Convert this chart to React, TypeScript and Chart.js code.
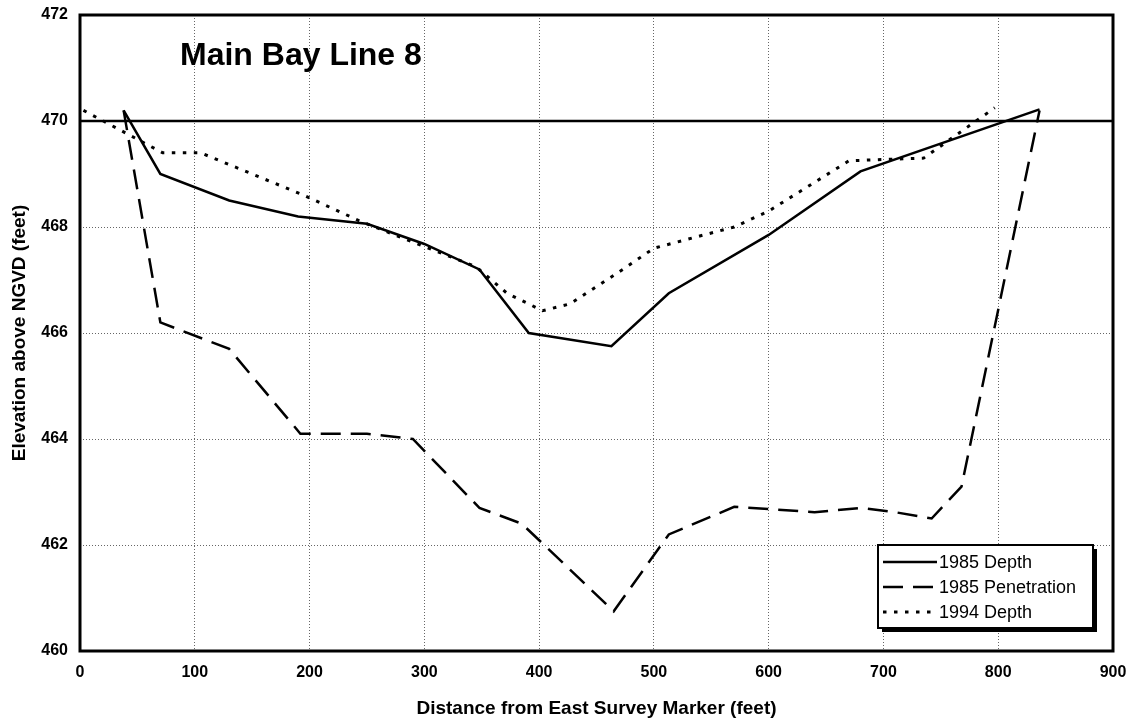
import React, { useEffect, useRef } from "react";
import { Chart, registerables } from "chart.js";

Chart.register(...registerables);

// ---- Data ----
const xTicks = [0, 100, 200, 300, 400, 500, 600, 700, 800, 900];
const yTicks = [460, 462, 464, 466, 468, 470, 472];

const depth1985X = [38, 70, 130, 190, 250, 300, 348, 391, 463, 513, 600, 680, 836];
const depth1985Y = [470.2, 469.0, 468.5, 468.2, 468.06, 467.68, 467.2, 466.0, 465.75, 466.75, 467.85, 469.05, 470.22];

const penetration1985X = [38, 70, 130, 192, 250, 290, 348, 385, 465, 513, 570, 640, 680, 710, 742, 768, 836];
const penetration1985Y = [470.2, 466.2, 465.7, 464.1, 464.1, 464.0, 462.7, 462.4, 460.75, 462.2, 462.72, 462.62, 462.7, 462.62, 462.5, 463.1, 470.2];

const depth1994X = [3, 72, 105, 195, 245, 345, 372, 403, 427, 473, 500, 540, 570, 600, 670, 735, 797];
const depth1994Y = [470.2, 469.4, 469.4, 468.6, 468.1, 467.25, 466.75, 466.42, 466.55, 467.2, 467.6, 467.83, 468.0, 468.3, 469.25, 469.3, 470.25];

const refLineX = [0, 900];
const refLineY = [470, 470];

const seriesNames = ["1985 Depth", "1985 Penetration", "1994 Depth"];
const chartTitle = "Main Bay Line 8";
const xAxisTitle = "Distance from East Survey Marker (feet)";
const yAxisTitle = "Elevation above NGVD (feet)";

const FONT = "'Liberation Sans', Arial, Helvetica, sans-serif";

const toPoints = (xs: number[], ys: number[]) => xs.map((x, i) => ({ x, y: ys[i] }));

const framePlugin = {
  id: "frameAndTitle",
  afterDatasetsDraw(chart: any) {
    const { ctx, chartArea } = chart;
    ctx.save();
    ctx.strokeStyle = "#000";
    ctx.lineWidth = 3;
    ctx.strokeRect(chartArea.left, chartArea.top, chartArea.right - chartArea.left, chartArea.bottom - chartArea.top);
    ctx.fillStyle = "#000";
    ctx.font = `bold 32px ${FONT}`;
    ctx.textAlign = "left";
    ctx.textBaseline = "alphabetic";
    ctx.fillText(chartTitle, chartArea.left + 100, chartArea.top + 50);
    ctx.restore();
  },
};

const legendPlugin = {
  id: "customLegend",
  afterDraw(chart: any) {
    const { ctx, chartArea } = chart;
    const w = 215;
    const h = 83;
    const left = chartArea.right - 20 - w;
    const top = chartArea.bottom - 23 - h;
    ctx.save();
    ctx.fillStyle = "#000";
    ctx.fillRect(left + 4, top + 4, w, h);
    ctx.fillStyle = "#fff";
    ctx.fillRect(left, top, w, h);
    ctx.strokeStyle = "#000";
    ctx.lineWidth = 2;
    ctx.strokeRect(left, top, w, h);
    ctx.font = `18px ${FONT}`;
    ctx.textBaseline = "middle";
    ctx.textAlign = "left";
    for (let i = 0; i < 3; i++) {
      const ds = chart.data.datasets[i];
      const y = top + 17 + i * 25;
      ctx.beginPath();
      ctx.setLineDash(ds.borderDash || []);
      ctx.lineWidth = ds.borderWidth;
      ctx.strokeStyle = ds.borderColor;
      ctx.moveTo(left + 5, y);
      ctx.lineTo(left + 59, y);
      ctx.stroke();
      ctx.setLineDash([]);
      ctx.fillStyle = "#000";
      ctx.fillText(seriesNames[i], left + 61, y + 1);
    }
    ctx.restore();
  },
};

export default function App() {
  const canvasRef = useRef<HTMLCanvasElement | null>(null);

  useEffect(() => {
    if (!canvasRef.current) return;
    const tickFont = { family: FONT, size: 16, weight: "bold" as const };
    const titleFont = { family: FONT, size: 19, weight: "bold" as const };
    const chart = new Chart(canvasRef.current, {
      type: "line",
      data: {
        datasets: [
          {
            label: seriesNames[0],
            data: toPoints(depth1985X, depth1985Y),
            borderColor: "#000",
            borderWidth: 2.5,
            borderDash: [],
            pointRadius: 0,
            tension: 0,
            fill: false,
          },
          {
            label: seriesNames[1],
            data: toPoints(penetration1985X, penetration1985Y),
            borderColor: "#000",
            borderWidth: 2.5,
            borderDash: [20, 10],
            pointRadius: 0,
            tension: 0,
            fill: false,
          },
          {
            label: seriesNames[2],
            data: toPoints(depth1994X, depth1994Y),
            borderColor: "#000",
            borderWidth: 3,
            borderDash: [3.5, 7.5],
            pointRadius: 0,
            tension: 0,
            fill: false,
          },
          {
            label: "470 reference",
            data: toPoints(refLineX, refLineY),
            borderColor: "#000",
            borderWidth: 2.5,
            pointRadius: 0,
            tension: 0,
            fill: false,
          },
        ],
      },
      options: {
        animation: false,
        responsive: false,
        maintainAspectRatio: false,
        devicePixelRatio: 1,
        layout: { padding: { top: 15, right: 24, left: 0, bottom: 0 } },
        plugins: {
          legend: { display: false },
          tooltip: { enabled: false },
        },
        scales: {
          x: {
            type: "linear",
            min: 0,
            max: 900,
            afterBuildTicks: (s: any) => {
              s.ticks = xTicks.map((v) => ({ value: v }));
            },
            afterFit: (s: any) => {
              s.height = 71;
              s.paddingLeft = 0;
              s.paddingRight = 0;
            },
            ticks: { font: tickFont, color: "#000", padding: 12, autoSkip: false, maxRotation: 0 },
            grid: { color: "rgba(0,0,0,0.6)", lineWidth: 1, drawTicks: false },
            border: { display: false, dash: [1, 2] },
            title: { display: true, text: xAxisTitle, font: titleFont, color: "#000", padding: { top: 0, bottom: 2 } },
          },
          y: {
            type: "linear",
            min: 460,
            max: 472,
            afterBuildTicks: (s: any) => {
              s.ticks = yTicks.map((v) => ({ value: v }));
            },
            afterFit: (s: any) => {
              s.width = 80;
              s.paddingTop = 0;
              s.paddingBottom = 0;
            },
            ticks: { font: tickFont, color: "#000", padding: 12, autoSkip: false },
            grid: { color: "rgba(0,0,0,0.6)", lineWidth: 1, drawTicks: false },
            border: { display: false, dash: [1, 2] },
            title: { display: true, text: yAxisTitle, font: titleFont, color: "#000", padding: { top: 8, bottom: 0 } },
          },
        },
      },
      plugins: [framePlugin, legendPlugin],
    });
    return () => chart.destroy();
  }, []);

  return (
    <div style={{ position: "absolute", left: 0, top: 0, width: 1137, height: 722, background: "#fff" }}>
      <canvas ref={canvasRef} width={1137} height={722} style={{ display: "block" }} />
    </div>
  );
}
